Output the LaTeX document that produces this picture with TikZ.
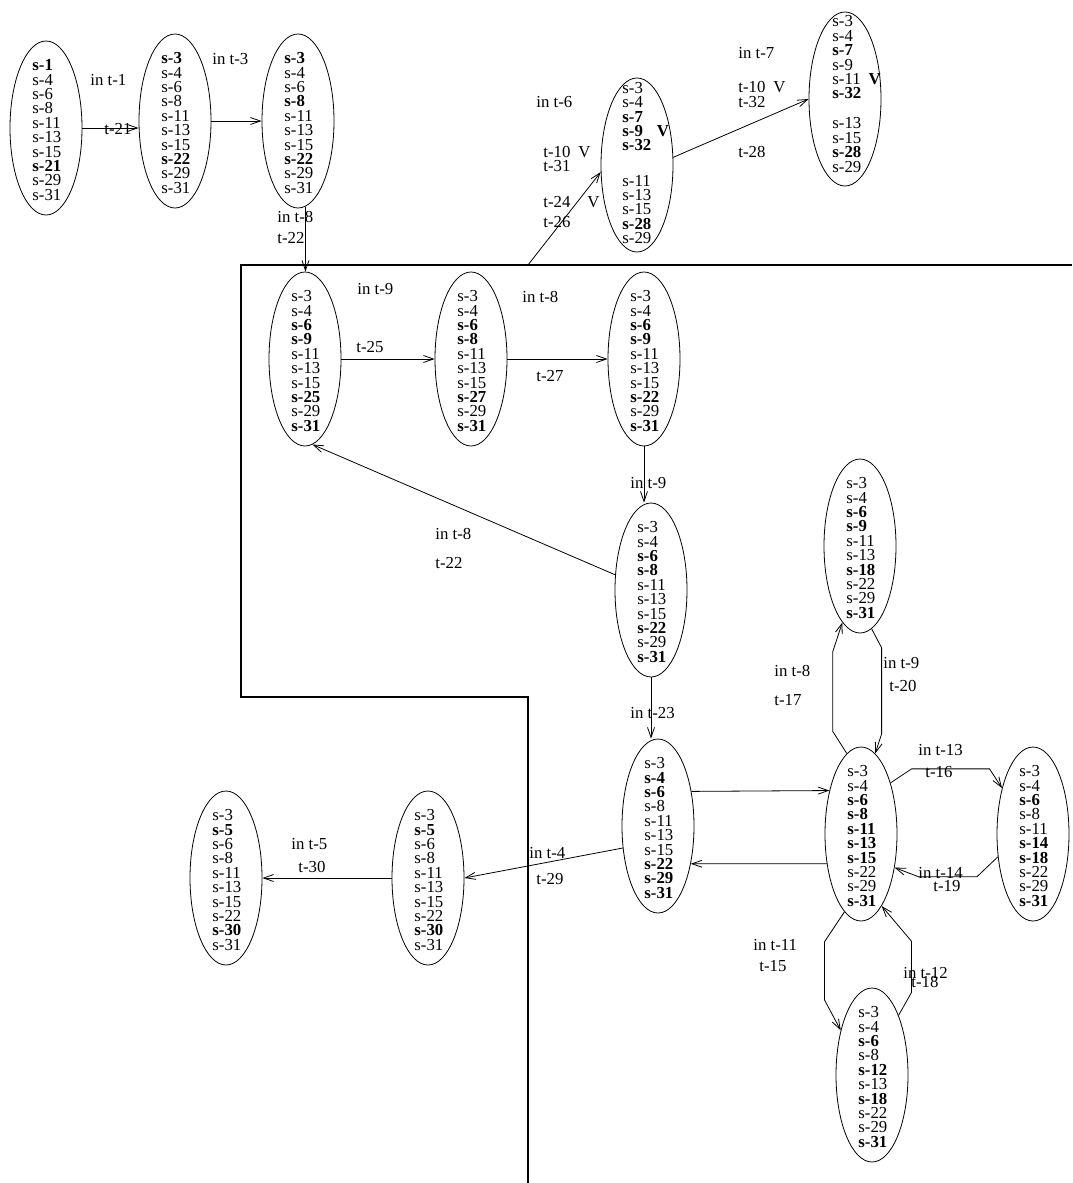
\documentclass[tikz,border=0pt]{standalone}
\usepackage{fontspec}
\setmainfont{Liberation Serif}
\usetikzlibrary{shapes.geometric, arrows.meta}

\begin{document}
\begin{tikzpicture}[x = 1pt, y = -1pt, line width = 0.8pt, >={Straight Barb[length = 10pt, width = 7pt]}]
	\tikzstyle {statelike} = [draw, ellipse, inner sep = 0pt, minimum width = 72pt, minimum height = 174pt];
	\tikzstyle {listlike} = [anchor = west, align = left, inner sep = 0pt, font = \fontsize{16.8}{14.4}\selectfont];
	\tikzstyle {labellike} = [anchor = west, inner sep = 0pt, font = \fontsize{16.8}{20}\selectfont];
	\useasboundingbox (0, 0) rectangle (1072, 1183);
	% region boundary
	\draw[line width = 1.2pt] (1072, 265) -- (241, 265) -- (241, 697) -- (528, 697) -- (528, 1183);
	\coordinate (boxcorner) at (528, 265);
	% states
	\foreach \nodename/\x/\y/\entries in {
			e1/46/128/{\textbf{s-1}\\s-4\\s-6\\s-8\\s-11\\s-13\\s-15\\\textbf{s-21}\\s-29\\s-31},
			e2/175/121/{\textbf{s-3}\\s-4\\s-6\\s-8\\s-11\\s-13\\s-15\\\textbf{s-22}\\s-29\\s-31},
			e3/298/121/{\textbf{s-3}\\s-4\\s-6\\\textbf{s-8}\\s-11\\s-13\\s-15\\\textbf{s-22}\\s-29\\s-31},
			e5/305/359/{s-3\\s-4\\\textbf{s-6}\\\textbf{s-9}\\s-11\\s-13\\s-15\\\textbf{s-25}\\s-29\\\textbf{s-31}},
			e6/471/359/{s-3\\s-4\\\textbf{s-6}\\\textbf{s-8}\\s-11\\s-13\\s-15\\\textbf{s-27}\\s-29\\\textbf{s-31}},
			e7/644/359/{s-3\\s-4\\\textbf{s-6}\\\textbf{s-9}\\s-11\\s-13\\s-15\\\textbf{s-22}\\s-29\\\textbf{s-31}},
			e8/651/590/{s-3\\s-4\\\textbf{s-6}\\\textbf{s-8}\\s-11\\s-13\\s-15\\\textbf{s-22}\\s-29\\\textbf{s-31}},
			e12/860/546/{s-3\\s-4\\\textbf{s-6}\\\textbf{s-9}\\s-11\\s-13\\\textbf{s-18}\\s-22\\s-29\\\textbf{s-31}},
			e9/658/826/{s-3\\\textbf{s-4}\\\textbf{s-6}\\s-8\\s-11\\s-13\\s-15\\\textbf{s-22}\\\textbf{s-29}\\\textbf{s-31}},
			e10/861/834/{s-3\\s-4\\\textbf{s-6}\\\textbf{s-8}\\\textbf{s-11}\\\textbf{s-13}\\\textbf{s-15}\\s-22\\s-29\\\textbf{s-31}},
			e11/1033/834/{s-3\\s-4\\\textbf{s-6}\\s-8\\s-11\\\textbf{s-14}\\\textbf{s-18}\\s-22\\s-29\\\textbf{s-31}},
			e13/872/1075/{s-3\\s-4\\\textbf{s-6}\\s-8\\\textbf{s-12}\\s-13\\\textbf{s-18}\\s-22\\s-29\\\textbf{s-31}},
			e14/428/878/{s-3\\\textbf{s-5}\\s-6\\s-8\\s-11\\s-13\\s-15\\s-22\\\textbf{s-30}\\s-31},
			e15/226/878/{s-3\\\textbf{s-5}\\s-6\\s-8\\s-11\\s-13\\s-15\\s-22\\\textbf{s-30}\\s-31}} {
			\node[statelike] (\nodename) at (\x, \y) {};
			\node[listlike] (\nodename l) at (\x - 14, \y + 2) {\entries};
		}
	\node[statelike] (e4) at (637, 165) {};
	\node[listlike] (e4l) at (622, 163) {s-3\\s-4\\\textbf{s-7}\\\textbf{s-9}\hspace{14pt}\textbf{V}\\\textbf{s-32}\\[20.7pt]s-11\\s-13\\s-15\\\textbf{s-28}\\s-29};
	\node[statelike] (e16) at (845, 99) {};
	\node[listlike] (e16l) at (832, 94) {s-3\\s-4\\\textbf{s-7}\\s-9\\s-11\hspace{8pt}\textbf{V}\\\textbf{s-32}\\[15.7pt]s-13\\s-15\\\textbf{s-28}\\s-29};
	% labels
	\foreach \x/\y/\txt [count = \i] in {
			90/80/in t-1, 104/129/t-21, 212/59/in t-3, 277/217/in t-8, 277/238/t-22,
			536/102/in t-6, 543/152/{t-10\hspace{8pt}V}, 543/166/t-31, 543/202/{t-24\hspace{17pt}V}, 543/222/t-26,
			738/53/in t-7, 738/87/{t-10\hspace{8pt}V}, 738/102/t-32, 738/152/t-28,
			357/289/in t-9, 356/347/t-25, 522/297/in t-8, 536/376/t-27,
			630/483/in t-9, 435/534/in t-8, 435/563/t-22, 630/713/in t-23,
			774/671/in t-8, 774/700/t-17, 883/663/in t-9, 889/686/t-20,
			918/750/in t-13, 925/772/t-16, 918/873/in t-14, 933/886/t-19,
			753/945/in t-11, 759/966/t-15, 903/973/in t-12, 911/982/t-18,
			529/853/in t-4, 536/879/t-29, 291/844/in t-5, 298/867/t-30} {
			\node[labellike] (lab\i) at (\x, \y) {\txt};
		}
	% transitions
	\draw[->] (e1.east) -- (e1.east -| e2.west);
	\draw[->] (e3.275) -- (e3.275 |- e5.north);
	\draw[->] (e7.south) -- (e7.south |- e8.north);
	\draw[->] (e8.south) -- (e8.south |- e9.north);
	\draw[->] (boxcorner) -- (e4.191);
	\foreach \firstnode/\secondnode in {e2.east/e3.west, e5.east/e6.west, e6.east/e7.west, e4.12/e16.west, e8.157/e5.275, e9.46/e10.126, e10.221/e9.311, e9.212/e14.east, e14.west/e15.east} {
			\draw[->] (\firstnode) -- (\secondnode);
		}
	\draw[->] (e10.60) -- ++(21, -14) -- ++(78, 0) -- (e11.124);
	\draw[->] (e11.213) -- ++(-21, 20) -- ++(-58, 0) -- (e10.315);
	\draw[->] (e10.100) -- ++(-14, -22) -- ++(0, -80) -- (e12.257);
	\draw[->] (e12.278) -- ++(10, 19) -- ++(0, 86) -- (e10.80);
	\draw[->] (e10.258) -- ++(-20, 30) -- ++(0, 58) -- (e13.125);
	\draw[->] (e13.66) -- ++(13, -23) -- ++(0, -51) -- (e10.286);
\end{tikzpicture}
\end{document}
